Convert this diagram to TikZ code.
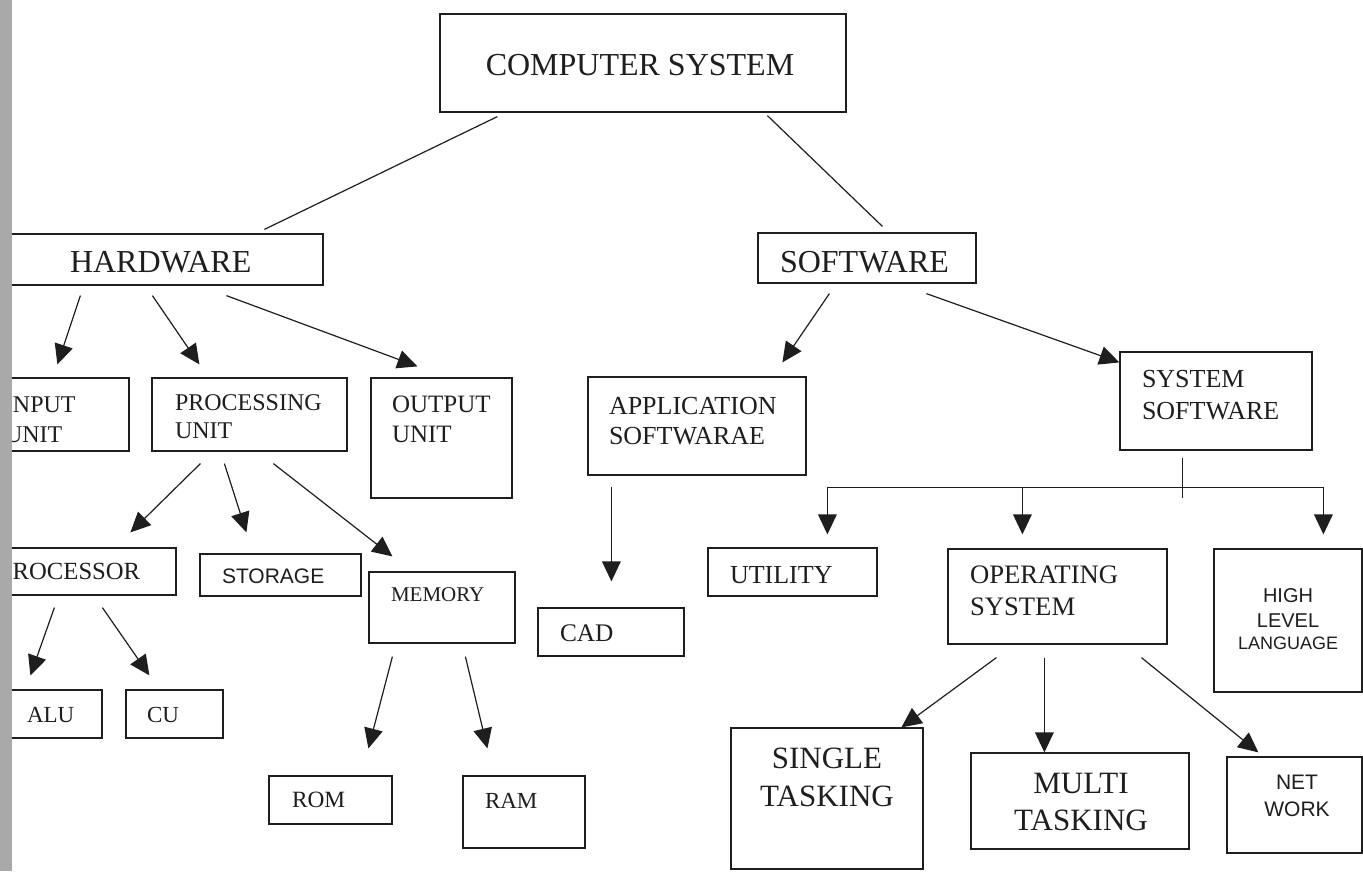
\documentclass[tikz,border=0pt]{standalone}
\usepackage{fontspec}
\setmainfont{Liberation Serif}
\newfontfamily\sansf{Liberation Sans}
\usetikzlibrary{arrows.meta,calc,fit}
\newcommand\fsz[2]{\fontsize{#1}{#2}\selectfont}
\definecolor{ink}{HTML}{1E1E1E}
\definecolor{edge}{HTML}{A9A9A9}
\tikzset{
  box/.style={draw=ink, line width=0.9pt, inner sep=0pt},
  txt/.style={inner sep=0pt, outer sep=0pt, text=ink},
  line/.style={draw=ink, line width=0.9pt},
  arr/.style={line, -{Triangle[length=15pt,width=14pt]}},
}
\begin{document}
\begin{tikzpicture}[x=0.75pt,y=-0.75pt]
\useasboundingbox (0,0) rectangle (1363,871);
\clip (0,0) rectangle (1363,871);
\fill[white] (0,0) rectangle (1363,871);

% boxes
\node[box, fit={(440,14) (846,112)}] (cs) {};
\node[box, fit={(-5,234) (323,285)}] (hw) {};
\node[box, fit={(758,233) (976,283)}] (sw) {};
\node[box, fit={(-5,378) (129,451)}] (inp) {};
\node[box, fit={(152,378) (347,451)}] (pu) {};
\node[box, fit={(371,378) (512,498)}] (out) {};
\node[box, fit={(588,377) (806,475)}] (app) {};
\node[box, fit={(1120,352) (1312,450)}] (sys) {};
\node[box, fit={(-5,548) (176,595)}] (proc) {};
\node[box, fit={(200,554) (361,596)}] (stor) {};
\node[box, fit={(369,572) (515,643)}] (mem) {};
\node[box, fit={(538,608) (684,656)}] (cad) {};
\node[box, fit={(708,548) (877,596)}] (util) {};
\node[box, fit={(948,549) (1167,644)}] (os) {};
\node[box, fit={(1214,549) (1362,692)}] (hll) {};
\node[box, fit={(0,690) (102,738)}] (alu) {};
\node[box, fit={(126,690) (223,738)}] (cu) {};
\node[box, fit={(269,776) (392,824)}] (rom) {};
\node[box, fit={(463,776) (585,848)}] (ram) {};
\node[box, fit={(731,728) (923,869)}] (single) {};
\node[box, fit={(971,753) (1189,849)}] (multi) {};
\node[box, fit={(1227,757) (1362,853)}] (net) {};

% labels
\node[txt, font=\fsz{24}{28}, anchor=north] (cst) at (640,54) {COMPUTER SYSTEM};
\node[txt, font=\fsz{24}{28}, anchor=north west] (hwt) at (70,251) {HARDWARE};
\node[txt, font=\fsz{24}{28}, anchor=north west] (swt) at (780,251) {SOFTWARE};
\node[txt, font=\fsz{18}{22.5}, anchor=north west, align=left] (inpt) at (5,397) {INPUT\\UNIT};
\node[txt, font=\fsz{18}{21}, anchor=north west, align=left] (put) at (175,395) {PROCESSING\\UNIT};
\node[txt, font=\fsz{18.75}{22.5}, anchor=north west, align=left] (outt) at (392,396) {OUTPUT\\UNIT};
\node[txt, font=\fsz{19.5}{22.5}, anchor=north west, align=left] (appt) at (609,397) {APPLICATION\\SOFTWARAE};
\node[txt, font=\fsz{19.5}{24}, anchor=north west, align=left] (syst) at (1142,370) {SYSTEM\\SOFTWARE};
\node[txt, font=\fsz{19.5}{24}, anchor=north west] (utilt) at (730,566) {UTILITY};
\node[txt, font=\fsz{20}{24}, anchor=north west, align=left] (ost) at (970,566) {OPERATING\\SYSTEM};
\node[txt, font=\fsz{19}{22}, anchor=north west] (cadt) at (560,625) {CAD};
\node[txt, font=\fsz{18.5}{22}, anchor=north west] (proct) at (-1,563) {PROCESSOR};
\node[txt, font=\sansf\fsz{15.75}{19}, anchor=north west] (stort) at (222,569) {STORAGE};
\node[txt, font=\fsz{15.75}{19}, anchor=north west] (memt) at (391,588) {MEMORY};
\node[txt, font=\fsz{17.25}{20}, anchor=north west] (alut) at (27,707) {ALU};
\node[txt, font=\fsz{17.25}{20}, anchor=north west] (cut) at (147,707) {CU};
\node[txt, font=\fsz{17.5}{20}, anchor=north west] (romt) at (292,792) {ROM};
\node[txt, font=\fsz{17.25}{20}, anchor=north west] (ramt) at (485,793) {RAM};
\node[txt, font=\fsz{23.25}{28.5}, anchor=north, align=center] (singlet) at (827,748) {SINGLE\\TASKING};
\node[txt, font=\fsz{23.25}{27.75}, anchor=north, align=center] (multit) at (1081,773) {MULTI\\TASKING};
\node[txt, font=\sansf\fsz{15.75}{20.25}, anchor=north, align=center] (nett) at (1297,775) {NET\\WORK};
\node[txt, font=\sansf\fsz{15}{18.75}, anchor=north, align=center] (hllt) at (1288,589) {HIGH\\LEVEL\\[-2.25pt]{\fsz{13.5}{16}LANGUAGE}};

% connectors
\draw[line] ($(cs.south west)+(58,4)$) -- ($(hw.north west)+(270,-4)$);
\draw[line] ($(cs.south west)+(328,3)$) -- ($(sw.north west)+(125,-6)$);

\draw[arr] ($(hw.south west)+(86,10)$) -- ($(inp.north west)+(63,-13)$);
\draw[arr] ($(hw.south west)+(158,10)$) -- ($(pu.north west)+(48,-13)$);
\draw[arr] ($(hw.south west)+(232,10)$) -- ($(out.north west)+(47,-11)$);

\draw[arr] ($(pu.south west)+(49,12)$) -- ($(proc.north west)+(136,-15)$);
\draw[arr] ($(pu.south west)+(73,12)$) -- ($(stor.north west)+(47,-21)$);
\draw[arr] ($(pu.south west)+(122,12)$) -- ($(mem.north west)+(24,-15)$);

\draw[arr] ($(proc.south west)+(60,12)$) -- ($(alu.north west)+(31,-14)$);
\draw[arr] ($(proc.south west)+(108,12)$) -- ($(cu.north west)+(24,-14)$);

\draw[arr] ($(mem.south west)+(24,13)$) -- ($(rom.north west)+(100,-27)$);
\draw[arr] ($(mem.south west)+(97,13)$) -- ($(ram.north west)+(25,-27)$);

\draw[arr] ($(sw.south west)+(72,10)$) -- ($(app.north west)+(195,-14)$);
\draw[arr] ($(sw.south west)+(169,10)$) -- ($(sys.north west)+(0,11)$);

\draw[arr] ($(app.south west)+(24,11)$) -- ($(cad.north west)+(74,-26)$);

% system software bracket
\draw[line] ($(sys.south west)+(63,7)$) -- ($(sys.south west)+(63,47)$);
\draw[line] ($(util.north west)+(120,-60)$) -- ($(hll.north west)+(110,-61)$);
\draw[arr] ($(util.north west)+(120,-60)$) -- ($(util.north west)+(120,-13)$);
\draw[arr] ($(os.north west)+(75,-61)$) -- ($(os.north west)+(75,-14)$);
\draw[arr] ($(hll.north west)+(110,-61)$) -- ($(hll.north west)+(110,-14)$);

\draw[arr] ($(os.south west)+(49,13)$) -- ($(single.north west)+(171,0)$);
\draw[arr] ($(os.south west)+(97,13)$) -- ($(multi.north west)+(74,0)$);
\draw[arr] ($(os.south west)+(194,13)$) -- ($(net.north west)+(32,-4)$);

% scanned page edge
\fill[edge] (0,0) rectangle (12,871);
\end{tikzpicture}
\end{document}
